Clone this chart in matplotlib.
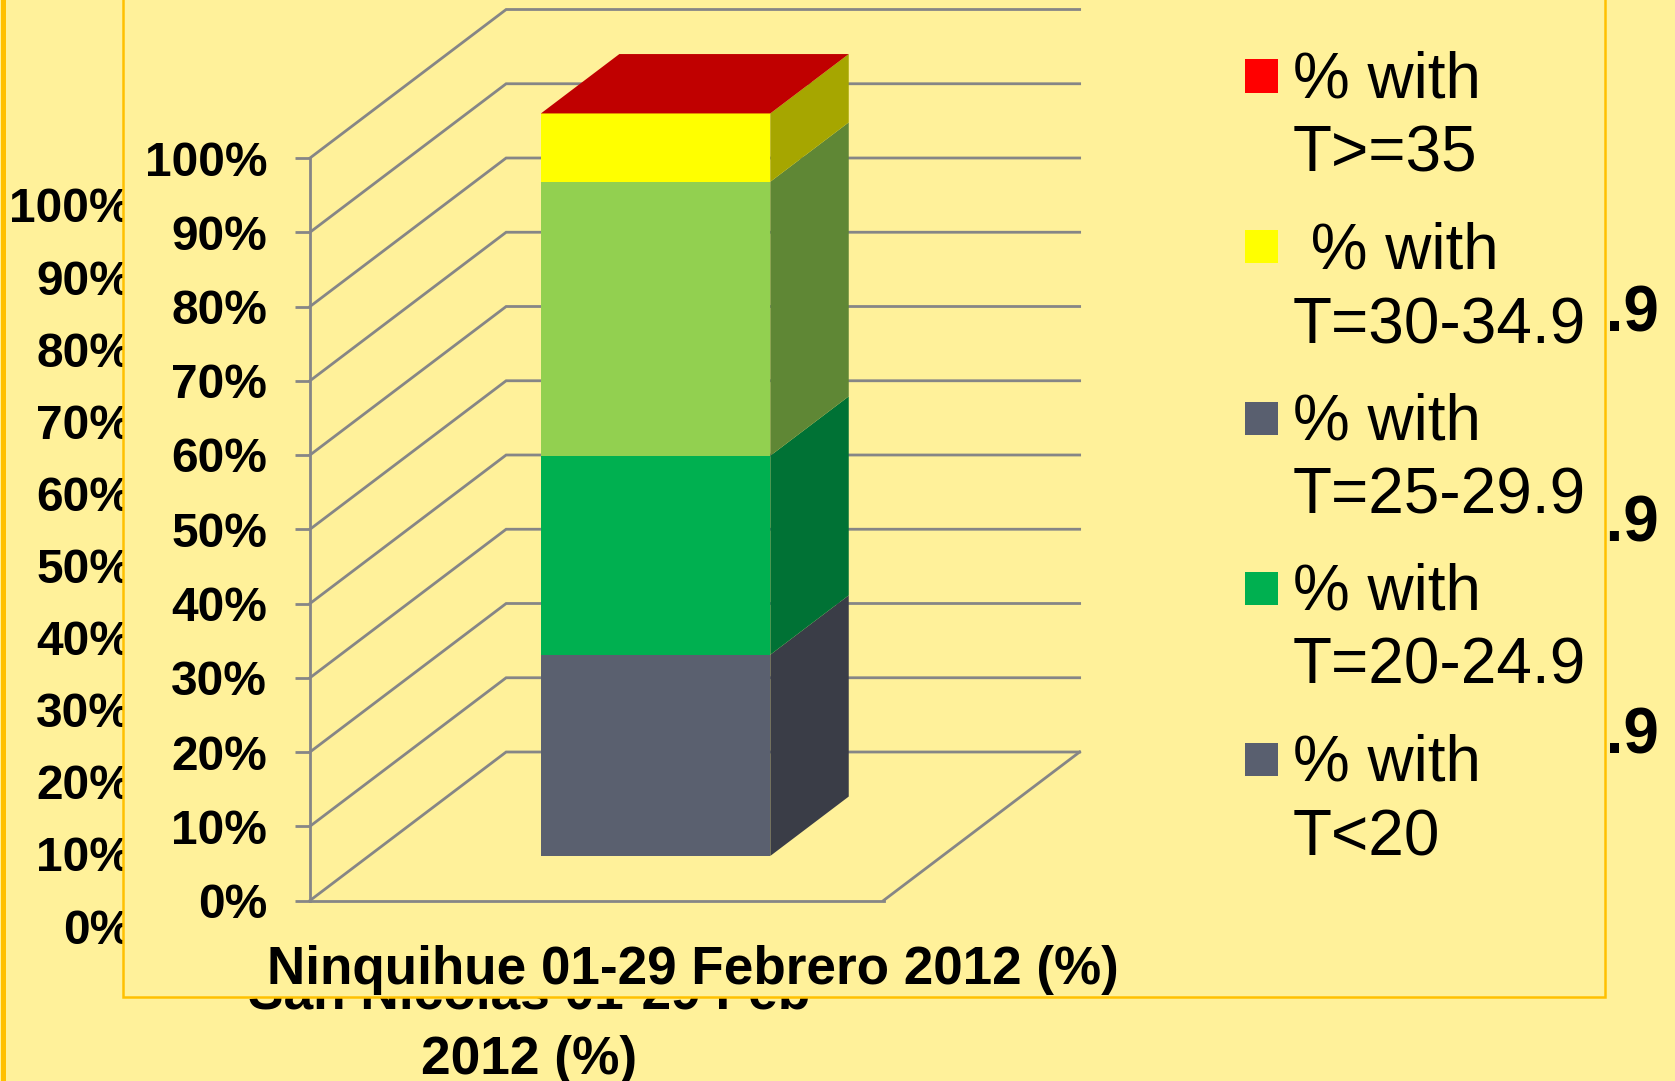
import matplotlib
matplotlib.use("Agg")
import matplotlib.pyplot as plt
from matplotlib.patches import Rectangle

plt.rcParams['font.family'] = ['Liberation Sans', 'DejaVu Sans']

W, H = 1675, 1081
BG = '#FFF19A'
ORANGE = '#FFC000'
GRID = '#868686'

# ---- data ----
category = 'Ninquihue 01-29 Febrero 2012 (%)'
background_category = 'San Nicolas 01-29 Feb\n2012 (%)'
pct_ticks = [0, 10, 20, 30, 40, 50, 60, 70, 80, 90, 100]
pct_labels = ['0%', '10%', '20%', '30%', '40%', '50%', '60%', '70%', '80%', '90%', '100%']
series_values = [27.1, 26.8, 36.9, 9.2, 0.0]
front_colors = ['#5A606F', '#00B050', '#92D050', '#FFFF00', '#C00000']
side_colors = ['#3A3D47', '#007235', '#5F8735', '#A6A600', '#800000']
legend_labels = ['% with\nT>=35', ' % with\nT=30-34.9', '% with\nT=25-29.9', '% with\nT=20-24.9', '% with\nT<20']
legend_colors = ['#FF0000', '#FFFF00', '#595F6F', '#00B050', '#595F6F']
legend_centers = [76, 247, 418, 588, 759]
hidden_legend = ['T=30-34.9', 'T=25-29.9', 'T=20-24.9']
hidden_legend_y = [331, 542, 753]

# ---- 3D-look layout ----
DX, DY = 0.342, 20.0        # full floor depth, in x-category units / percent
BAR_W = 0.4
D_FRONT, D_BACK = 0.30, 0.70


def fx(px):
    return px / W


def fy(py):
    return 1 - py / H


def axes_px(left, top, right, bottom, **kw):
    return fig.add_axes([fx(left), fy(bottom), (right - left) / W, (bottom - top) / H], **kw)


fig = plt.figure(figsize=(W / 100, H / 100), dpi=100, facecolor=BG)

# outer (hidden) chart, mostly covered by the inner panel
bg = axes_px(150, 205, 908, 926, zorder=0)
bg.patch.set_visible(False)
bg.set_xlim(-0.5, 0.5)
bg.set_ylim(0, 100)
for s in bg.spines.values():
    s.set_visible(False)
bg.set_yticks(pct_ticks, pct_labels, fontsize=34.5, fontweight='bold')
bg.set_xticks([0], [background_category], fontsize=38.3, fontweight='bold', linespacing=1.4)
bg.tick_params(axis='y', length=0, pad=13)
bg.tick_params(axis='x', length=0, pad=31)
for lab, yy in zip(hidden_legend, hidden_legend_y):
    fig.text(fx(1659), fy(yy), lab, ha='right', va='baseline', fontsize=46, fontweight='bold', zorder=0.5)

fig.add_artist(Rectangle((fx(3), fy(H + 10)), 0, 1.1, transform=fig.transFigure, fill=False,
                         edgecolor=ORANGE, lw=3.5, zorder=0.6))

# inner panel
fig.add_artist(Rectangle((fx(123), fy(997)), (1605 - 123) / W, 1.2, transform=fig.transFigure,
                         facecolor=BG, edgecolor=ORANGE, lw=1.8, zorder=1))

# main chart
ax = axes_px(310, 158, 883.5, 900.5, zorder=2)
ax.patch.set_visible(False)
ax.set_xlim(-0.5, 0.5)
ax.set_ylim(0, 100)
for name, s in ax.spines.items():
    s.set_visible(name in ('left', 'bottom'))
    s.set_color(GRID)
    s.set_linewidth(2.0)
ax.set_yticks(pct_ticks, pct_labels, fontsize=34.5, fontweight='bold')
ax.tick_params(axis='y', length=10.8, width=2.0, color=GRID, pad=20)
ax.set_xticks([0.5 * DX - 0.004], [category], fontsize=38.2, fontweight='bold')
ax.tick_params(axis='x', length=0, pad=32)

# walls
right = 0.5
for p in pct_ticks:
    ax.plot([-0.5, -0.5 + DX, right + DX], [p, p + DY, p + DY], color=GRID, lw=2.0,
            clip_on=False, zorder=1, solid_joinstyle='miter')
ax.plot([right, right + DX], [0, DY], color=GRID, lw=2.0, clip_on=False, zorder=1)

# stacked bar
x0, x1 = -BAR_W / 2, BAR_W / 2
bottom = 0.0
for val, fc, sc in zip(series_values, front_colors, side_colors):
    top = bottom + val
    if val > 0:
        ax.bar(0 + D_FRONT * DX, val, width=BAR_W, bottom=bottom + D_FRONT * DY, color=fc,
               clip_on=False, zorder=3, linewidth=0)
        ax.fill([x1 + D_FRONT * DX, x1 + D_BACK * DX, x1 + D_BACK * DX, x1 + D_FRONT * DX],
                [bottom + D_FRONT * DY, bottom + D_BACK * DY, top + D_BACK * DY, top + D_FRONT * DY],
                color=sc, clip_on=False, zorder=3, linewidth=0)
    bottom = top
# the top-most series has no height: only its top face shows
ax.fill([x0 + D_FRONT * DX, x1 + D_FRONT * DX, x1 + D_BACK * DX, x0 + D_BACK * DX],
        [bottom + D_FRONT * DY, bottom + D_FRONT * DY, bottom + D_BACK * DY, bottom + D_BACK * DY],
        color=front_colors[-1], clip_on=False, zorder=4, linewidth=0)

# legend
SW = 33
for lab, col, cy in zip(legend_labels, legend_colors, legend_centers):
    fig.add_artist(Rectangle((fx(1245), fy(cy + SW / 2)), SW / W, SW / H, transform=fig.transFigure,
                             facecolor=col, edgecolor='none', zorder=3))
    fig.text(fx(1293), fy(cy + 96), lab, ha='left', va='baseline', fontsize=46, linespacing=1.3, zorder=3)

fig.savefig('out.png', dpi=100, facecolor=BG)
